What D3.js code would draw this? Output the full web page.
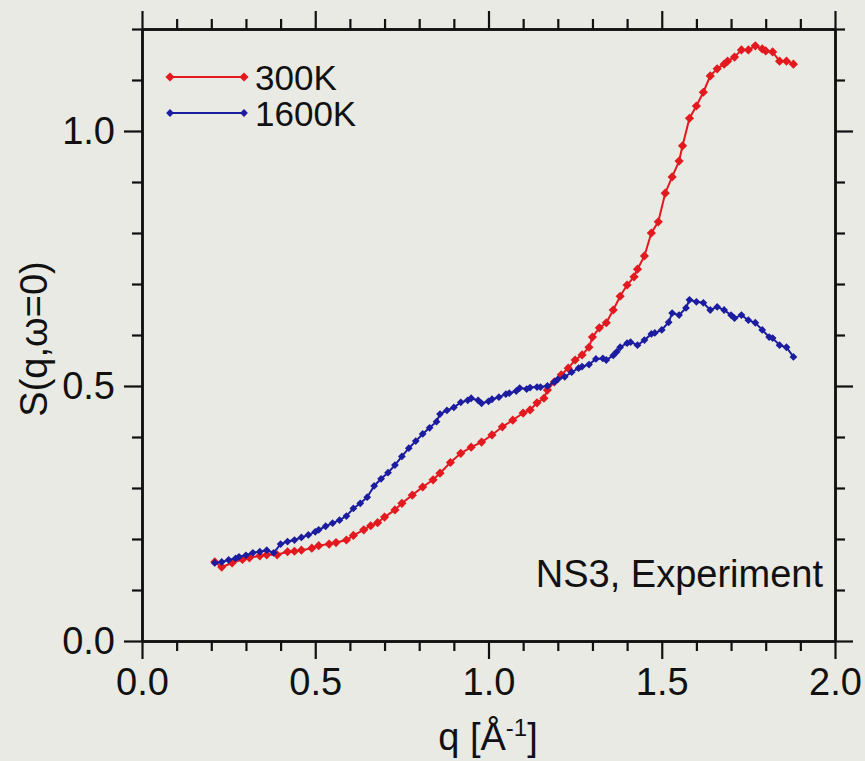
<!DOCTYPE html>
<html>
<head>
<meta charset="utf-8">
<script src="https://cdn.jsdelivr.net/npm/d3@7"></script>
<style>
    body { margin: 0; background: #e8eae3; }
    svg { display: block; }
    text { font-family: "Liberation Sans", Arial, Helvetica, sans-serif; fill: #111; }
</style>
</head>
<body>
<div id="chart"><svg width="865" height="761"></svg></div>
<script>
// data: q [1/A] and S(q, w=0)
const q300 = [0.21,0.23,0.26,0.29,0.31,0.34,0.36,0.39,0.42,0.44,0.46,0.49,0.51,0.54,0.56,0.59,0.61,0.64,0.66,0.68,
    0.70,0.73,0.75,0.78,0.81,0.84,0.86,0.89,0.92,0.95,0.98,1.01,1.04,1.07,1.10,1.12,1.14,1.16,1.17,1.19,
    1.21,1.23,1.25,1.27,1.29,1.30,1.32,1.34,1.36,1.38,1.40,1.42,1.43,1.45,1.47,1.49,1.51,1.53,1.55,1.56,
    1.58,1.60,1.62,1.64,1.66,1.68,1.69,1.71,1.73,1.75,1.77,1.79,1.80,1.82,1.84,1.86,1.88];
const s300 = [0.155,0.145,0.153,0.160,0.163,0.167,0.169,0.169,0.175,0.176,0.178,0.182,0.187,0.190,0.193,0.198,0.207,0.218,0.226,0.232,
    0.243,0.257,0.270,0.286,0.302,0.316,0.329,0.350,0.368,0.380,0.390,0.404,0.420,0.433,0.447,0.453,0.467,0.476,0.492,0.508,
    0.522,0.535,0.551,0.561,0.576,0.596,0.614,0.624,0.649,0.676,0.698,0.714,0.729,0.755,0.800,0.822,0.878,0.910,0.941,0.971,
    1.025,1.049,1.076,1.108,1.122,1.131,1.137,1.145,1.159,1.159,1.167,1.161,1.157,1.155,1.137,1.137,1.131];

const q1600 = [0.21,0.23,0.25,0.27,0.28,0.30,0.32,0.34,0.36,0.38,0.40,0.42,0.44,0.46,0.48,0.50,0.51,0.53,0.55,0.57,
    0.59,0.61,0.63,0.65,0.67,0.69,0.71,0.73,0.75,0.77,0.79,0.81,0.83,0.85,0.86,0.88,0.90,0.92,0.94,0.95,
    0.97,0.98,1.00,1.01,1.03,1.05,1.06,1.08,1.09,1.11,1.12,1.14,1.15,1.17,1.19,1.20,1.22,1.24,1.26,1.27,
    1.29,1.31,1.33,1.34,1.36,1.37,1.38,1.40,1.41,1.43,1.45,1.47,1.48,1.50,1.52,1.53,1.55,1.57,1.58,1.60,
    1.62,1.64,1.66,1.68,1.70,1.71,1.73,1.75,1.77,1.79,1.81,1.82,1.84,1.86,1.88];
const s1600 = [0.153,0.155,0.159,0.162,0.165,0.168,0.173,0.175,0.178,0.173,0.190,0.195,0.198,0.203,0.208,0.214,0.218,0.225,0.231,0.237,
    0.245,0.260,0.270,0.282,0.304,0.318,0.330,0.345,0.362,0.378,0.392,0.406,0.418,0.430,0.445,0.452,0.458,0.468,0.472,0.476,
    0.472,0.466,0.470,0.474,0.478,0.484,0.486,0.490,0.496,0.494,0.497,0.498,0.498,0.500,0.508,0.513,0.518,0.527,0.535,0.538,
    0.542,0.553,0.554,0.551,0.560,0.567,0.576,0.584,0.586,0.580,0.590,0.602,0.604,0.610,0.625,0.643,0.639,0.653,0.669,0.665,
    0.663,0.649,0.655,0.649,0.639,0.633,0.639,0.629,0.624,0.610,0.596,0.594,0.580,0.576,0.557];

const seriesNames = ['300K', '1600K'];
const seriesColors = ['#e3191f', '#1c1ca0'];

const xMajor = [0.0, 0.5, 1.0, 1.5, 2.0];
const xMinor = [0.1,0.2,0.3,0.4,0.6,0.7,0.8,0.9,1.1,1.2,1.3,1.4,1.6,1.7,1.8,1.9];
const yMajor = [0.0, 0.5, 1.0];
const yMinor = [0.1,0.2,0.3,0.4,0.6,0.7,0.8,0.9,1.1,1.2];

const annotation = 'NS3, Experiment';

// layout
const margin = {t:29, r:30, b:120, l:142};
const svg = d3.select('#chart').select('svg');
const width = +svg.attr('width');
const height = +svg.attr('height');
const w = width - (margin.l + margin.r);
const h = height - (margin.t + margin.b);

const scaleX = d3.scaleLinear().domain([0, 2]).range([margin.l, margin.l + w]);
const scaleY = d3.scaleLinear().domain([0, 1.2]).range([margin.t + h, margin.t]);

const fmt = d3.format('.1f');

// four-sided frame, ticks pointing outward
function styleAxis(g) {
    g.selectAll('.domain').attr('stroke', '#111').attr('stroke-width', 2.5);
    g.selectAll('.tick line').attr('stroke', '#111').attr('stroke-width', 2.2);
    g.selectAll('.tick text').style('font-size', '38px').attr('fill', '#111');
}

function drawAxis(gen, scale, major, minor, tr, labels) {
    svg.append('g')
        .attr('transform', tr)
        .call(gen(scale).tickValues(minor).tickSize(10).tickSizeOuter(0).tickFormat(''))
        .call(styleAxis);
    svg.append('g')
        .attr('transform', tr)
        .call(gen(scale).tickValues(major).tickSize(18).tickSizeOuter(0)
            .tickPadding(labels ? 9 : 0).tickFormat(labels ? fmt : ''))
        .call(styleAxis);
}

drawAxis(d3.axisBottom, scaleX, xMajor, xMinor, `translate(0,${scaleY(0)})`, true);
drawAxis(d3.axisTop, scaleX, xMajor, xMinor, `translate(0,${scaleY(1.2)})`, false);
drawAxis(d3.axisLeft, scaleY, yMajor, yMinor, `translate(${scaleX(0)},0)`, true);
drawAxis(d3.axisRight, scaleY, yMajor, yMinor, `translate(${scaleX(2)},0)`, false);

// series
const series = [
    {name: seriesNames[0], color: seriesColors[0], size: 6.5, pts: q300.map((q, i) => [q, s300[i]])},
    {name: seriesNames[1], color: seriesColors[1], size: 5.5, pts: q1600.map((q, i) => [q, s1600[i]])}
];

const line = d3.line()
    .x(d => scaleX(d[0]))
    .y(d => scaleY(d[1]));

const plot = svg.append('g').classed('plot', true);

series.forEach(s => {
    const g = plot.append('g').classed('series', true);
    g.append('path')
        .datum(s.pts)
        .attr('d', line)
        .attr('fill', 'none')
        .attr('stroke', s.color)
        .attr('stroke-width', 2);
    g.selectAll('rect')
        .data(s.pts)
        .join('rect')
        .attr('x', d => scaleX(d[0]) - s.size / 2)
        .attr('y', d => scaleY(d[1]) - s.size / 2)
        .attr('width', s.size)
        .attr('height', s.size)
        .attr('transform', d => `rotate(45,${scaleX(d[0])},${scaleY(d[1])})`)
        .attr('fill', s.color);
});

// legend
const legend = svg.append('g').classed('legend', true);
series.forEach((s, i) => {
    const ly = 77 + i * 36;
    legend.append('line')
        .attr('x1', 170).attr('x2', 244)
        .attr('y1', ly).attr('y2', ly)
        .attr('stroke', s.color)
        .attr('stroke-width', 2);
    [170, 244].forEach(lx => {
        legend.append('rect')
            .attr('x', lx - s.size / 2).attr('y', ly - s.size / 2)
            .attr('width', s.size).attr('height', s.size)
            .attr('transform', `rotate(45,${lx},${ly})`)
            .attr('fill', s.color);
    });
    legend.append('text')
        .attr('x', 255).attr('y', ly + 13)
        .style('font-size', '35px')
        .text(s.name);
});

// annotation
svg.append('text')
    .attr('x', 823).attr('y', 587)
    .attr('text-anchor', 'end')
    .style('font-size', '38px')
    .text(annotation);

// axis titles
const xTitle = svg.append('text')
    .attr('x', 488).attr('y', 750)
    .attr('text-anchor', 'middle')
    .style('font-size', '38px');
xTitle.append('tspan').text('q [Å');
xTitle.append('tspan').attr('dy', -14).style('font-size', '24px').text('-1');
xTitle.append('tspan').attr('dy', 14).text(']');

svg.append('text')
    .attr('transform', 'translate(47,339) rotate(-90)')
    .attr('text-anchor', 'middle')
    .style('font-size', '38px')
    .text('S(q,ω=0)');
</script>
</body>
</html>
